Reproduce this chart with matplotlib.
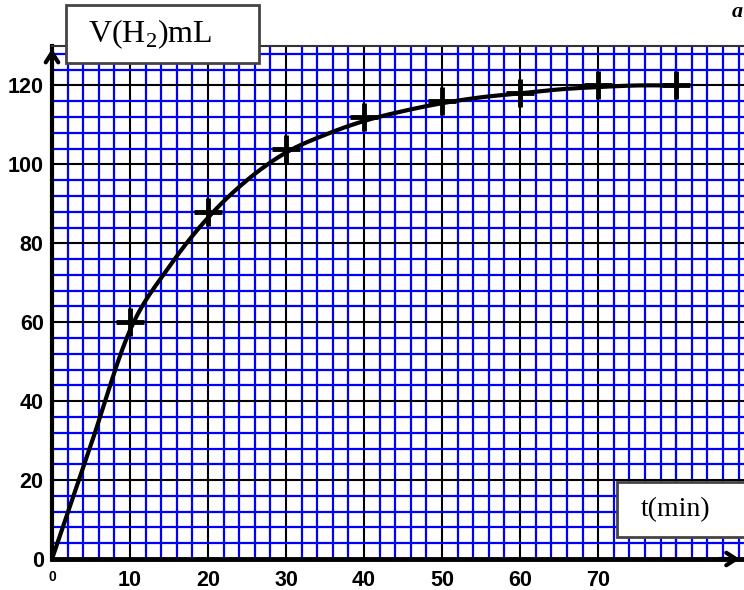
import numpy as np
import matplotlib
matplotlib.use("Agg")
import matplotlib.pyplot as plt
from matplotlib.ticker import MultipleLocator, FixedLocator, FixedFormatter
from matplotlib.patches import Rectangle

plt.rcParams["mathtext.fontset"] = "custom"
plt.rcParams["mathtext.rm"] = "Liberation Serif"

# measured points (t in min, V in mL)
t_points = [10, 20, 30, 40, 50, 60, 70, 80]
v_points = [60, 88, 104, 112, 116, 118, 120, 120]

# hand-drawn curve
t_curve = [0, 5, 10, 15, 20, 25, 30, 35, 40, 45, 50, 55, 60, 65, 70, 75, 80]
v_curve = [0, 29, 58, 74, 86.5, 96, 103, 107.5, 111, 113.5, 115.5, 117, 118, 119, 119.6, 120, 120]

x_ticks = [0, 10, 20, 30, 40, 50, 60, 70]
x_labels = ["0", "10", "20", "30", "40", "50", "60", "70"]
y_ticks = [0, 20, 40, 60, 80, 100, 120]
y_labels = ["0", "20", "40", "60", "80", "100", "120"]


def catmull_rom(x, y, n=20):
    x = np.asarray(x, float); y = np.asarray(y, float)
    px = np.concatenate([[2 * x[0] - x[1]], x, [2 * x[-1] - x[-2]]])
    py = np.concatenate([[2 * y[0] - y[1]], y, [2 * y[-1] - y[-2]]])
    xs, ys = [], []
    for i in range(1, len(px) - 2):
        s = np.linspace(0, 1, n, endpoint=False)
        for P, out in ((px, xs), (py, ys)):
            p0, p1, p2, p3 = P[i - 1], P[i], P[i + 1], P[i + 2]
            out.extend(0.5 * ((2 * p1) + (-p0 + p2) * s + (2 * p0 - 5 * p1 + 4 * p2 - p3) * s ** 2
                              + (-p0 + 3 * p1 - 3 * p2 + p3) * s ** 3))
    xs.append(x[-1]); ys.append(y[-1])
    return np.array(xs), np.array(ys)


W, H = 744, 590
fig = plt.figure(figsize=(W / 100, H / 100), dpi=100)
ax = fig.add_axes([52 / W, 31 / H, 692 / W, 513 / H])
ax.set_xlim(0, 88.7)
ax.set_ylim(0, 130)

ax.xaxis.set_minor_locator(MultipleLocator(2))
ax.yaxis.set_minor_locator(MultipleLocator(4))
ax.xaxis.set_major_locator(FixedLocator(x_ticks))
ax.xaxis.set_major_formatter(FixedFormatter(x_labels))
ax.yaxis.set_major_locator(FixedLocator(y_ticks))
ax.yaxis.set_major_formatter(FixedFormatter(y_labels))

ax.grid(which="minor", color="#0000ff", lw=1.6, zorder=0)
ax.grid(which="major", color="black", lw=1.5, zorder=0.5)
ax.set_axisbelow(True)
ax.axvline(80, color="black", lw=1.5, zorder=0.5)

ax.tick_params(which="both", length=0)
ax.tick_params(axis="x", pad=8)
ax.tick_params(axis="y", pad=6)
for lab in ax.get_xticklabels() + ax.get_yticklabels():
    lab.set_fontweight("bold")
    lab.set_fontsize(15.5)
    lab.set_family("Liberation Sans")
ax.get_xticklabels()[0].set_fontsize(10)

ax.spines["right"].set_visible(False)
ax.spines["top"].set_color("#333333")
ax.spines["top"].set_linewidth(1.5)
ax.spines["left"].set_linewidth(3)
ax.spines["bottom"].set_linewidth(3.5)

# arrows
ax.annotate("", xy=(0, 1.0), xytext=(0, 0.97), xycoords="axes fraction",
            arrowprops=dict(arrowstyle="->,head_length=0.7,head_width=0.45", lw=3, color="black"),
            annotation_clip=False)
ax.annotate("", xy=(0.998, 0.0), xytext=(0.96, 0.0), xycoords="axes fraction",
            arrowprops=dict(arrowstyle="->,head_length=0.7,head_width=0.45", lw=3, color="black"),
            annotation_clip=False)

# curve and points
cx, cy = catmull_rom(t_curve, v_curve)
ax.plot(cx, cy, color="black", lw=3, zorder=3, solid_capstyle="round")
ax.plot(t_points, v_points, linestyle="none", marker="+", markersize=20,
        markeredgewidth=3.5, color="black", zorder=4)


def box(x0, y0, x1, y1):
    fig.add_artist(Rectangle((x0 / W, 1 - y1 / H), (x1 - x0) / W, (y1 - y0) / H,
                             transform=fig.transFigure, fc="white", ec="#444444",
                             lw=2, zorder=10))


# label boxes
box(66, 5, 259, 63)
fig.text(150 / W, 1 - 34 / H, r"V(H$_\mathrm{2}$)mL", ha="center", va="center",
         fontsize=23, family="Liberation Serif", zorder=11)
box(617, 482, 749, 537)
fig.text(676 / W, 1 - 510 / H, "t(min)", ha="center", va="center",
         fontsize=20, family="Liberation Serif", zorder=11)
fig.text(743 / W, 1 - 12 / H, "a", ha="right", va="center", fontsize=16,
         fontweight="bold", fontstyle="italic", family="Liberation Serif")

fig.savefig("out.png", dpi=100)
